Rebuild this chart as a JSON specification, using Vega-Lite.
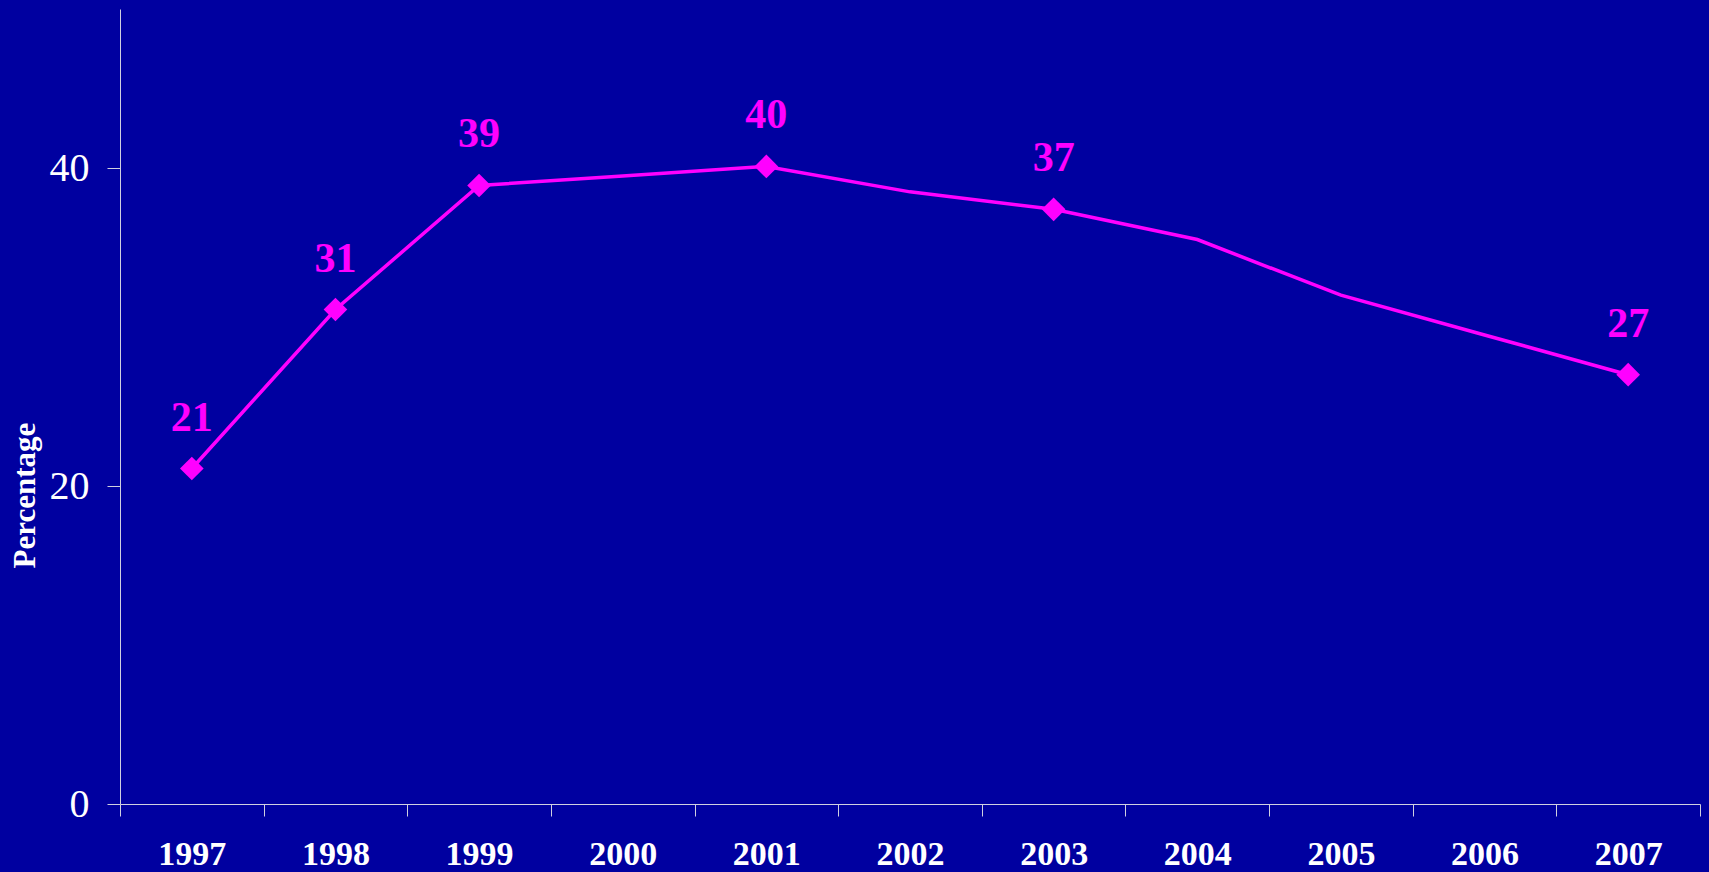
{
  "$schema": "https://vega.github.io/schema/vega-lite/v6.json",
  "width": 1580,
  "height": 795,
  "autosize": "none",
  "padding": {"left": 120, "top": 9, "right": 9, "bottom": 68},
  "background": "#0000A0",
  "config": {"view": {"stroke": null}, "font": "Liberation Serif"},
  "data": {
    "values": [
      {"year": "1997", "pct": 21.1, "marked": true},
      {"year": "1998", "pct": 31.1, "marked": true},
      {"year": "1999", "pct": 38.9, "marked": true},
      {"year": "2000", "pct": 39.5, "marked": false},
      {"year": "2001", "pct": 40.1, "marked": true},
      {"year": "2002", "pct": 38.5, "marked": false},
      {"year": "2003", "pct": 37.4, "marked": true},
      {"year": "2004", "pct": 35.5, "marked": false},
      {"year": "2005", "pct": 32.0, "marked": false},
      {"year": "2006", "pct": 29.5, "marked": false},
      {"year": "2007", "pct": 27.0, "marked": true}
    ]
  },
  "encoding": {
    "x": {
      "field": "year",
      "type": "ordinal",
      "scale": {"type": "band", "paddingInner": 0, "paddingOuter": 0},
      "axis": {
        "title": null,
        "labelAngle": 0,
        "labelFont": "Liberation Serif",
        "labelFontSize": 34,
        "labelFontWeight": "bold",
        "labelColor": "#FFFFFF",
        "labelPadding": 21,
        "tickSize": 12,
        "tickBand": "extent",
        "tickColor": "#D0D0E0",
        "domainColor": "#D0D0E0",
        "grid": false
      }
    },
    "y": {
      "field": "pct",
      "type": "quantitative",
      "scale": {"domain": [0, 50], "nice": false},
      "axis": {
        "values": [0, 20, 40],
        "title": "Percentage",
        "titleFont": "Liberation Serif",
        "titleFontSize": 31,
        "titleFontWeight": "bold",
        "titleColor": "#FFFFFF",
        "titleAngle": -90,
        "titleAlign": "center",
        "titleBaseline": "alphabetic",
        "titleX": -86,
        "titleY": 486,
        "labelFont": "Liberation Serif",
        "labelFontSize": 40,
        "labelColor": "#FFFFFF",
        "labelPadding": 18,
        "tickSize": 13,
        "tickColor": "#D0D0E0",
        "domainColor": "#D0D0E0",
        "grid": false
      }
    }
  },
  "layer": [
    {"mark": {"type": "line", "color": "#FF00FF", "strokeWidth": 3.5}},
    {
      "transform": [{"filter": "datum.marked"}],
      "mark": {"type": "point", "shape": "diamond", "filled": true, "size": 560, "color": "#FF00FF", "opacity": 1}
    },
    {
      "transform": [{"filter": "datum.marked"}],
      "mark": {"type": "text", "dy": -38, "baseline": "alphabetic", "align": "center", "font": "Liberation Serif", "fontSize": 42, "fontWeight": "bold", "color": "#FF00FF"},
      "encoding": {"text": {"field": "pct", "type": "quantitative", "format": ".0f"}}
    }
  ]
}
